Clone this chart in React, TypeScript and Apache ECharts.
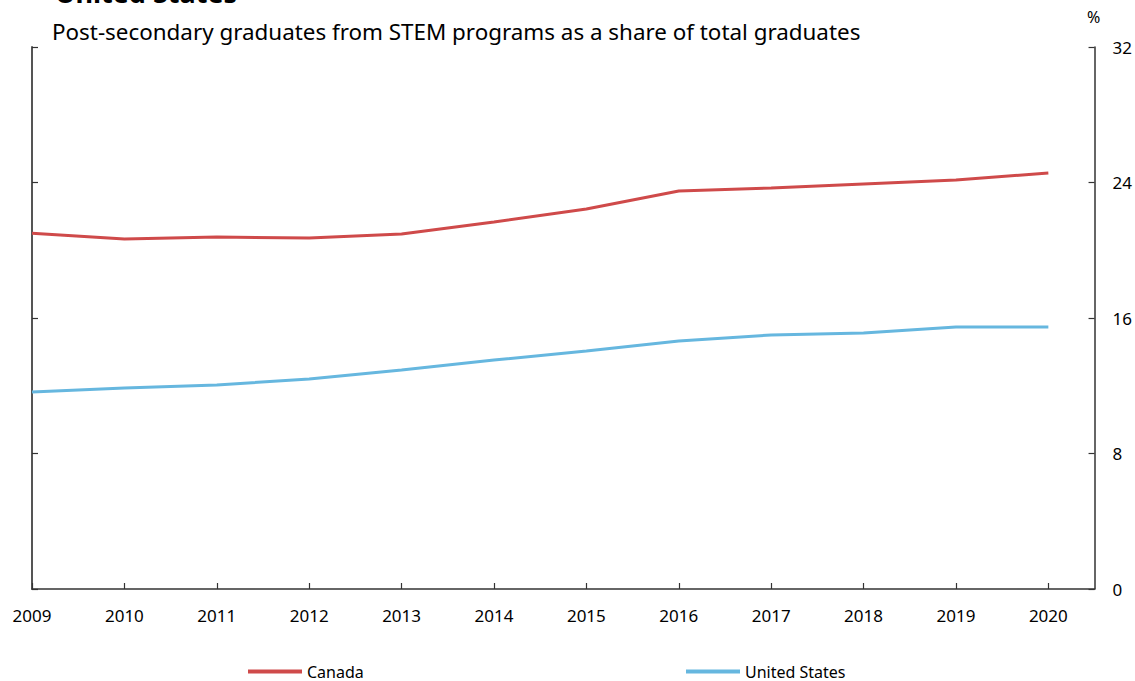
import React, { useEffect, useRef } from "react";
import * as echarts from "echarts";

const years = [2009, 2010, 2011, 2012, 2013, 2014, 2015, 2016, 2017, 2018, 2019, 2020];
const canada = [21.0, 20.66, 20.78, 20.72, 20.96, 21.67, 22.44, 23.5, 23.68, 23.91, 24.15, 24.56];
const unitedStates = [11.63, 11.87, 12.04, 12.4, 12.93, 13.52, 14.05, 14.64, 15.0, 15.11, 15.47, 15.47];
const yTicks = { min: 0, max: 32, interval: 8 };
const titleText = "United States";
const subtitleText = "Post-secondary graduates from STEM programs as a share of total graduates";
const unitText = "%";

const FONT = "'Noto Sans', 'Open Sans', sans-serif";
const RED = "#cf4a4a";
const BLUE = "#66b7df";
const AXIS = "#333333";

export default function App() {
  const ref = useRef<HTMLDivElement>(null);
  useEffect(() => {
    if (!ref.current) return;
    const chart = echarts.init(ref.current, undefined, { renderer: "svg" });
    const pairs = (vals: number[]) => years.map((y, i) => [y, vals[i]]);
    const legendText = { fontFamily: FONT, fontSize: 16, lineHeight: 17, color: "#000", padding: [0, 0, 0, 0] };
    chart.setOption({
      animation: false,
      backgroundColor: "#ffffff",
      textStyle: { fontFamily: FONT },
      grid: { left: 32, right: 40, top: 47, bottom: 92, containLabel: false },
      graphic: [
        {
          type: "text",
          left: 55,
          top: -21,
          style: { text: titleText, font: `bold 27px ${FONT}`, fill: "#000" },
        },
        {
          type: "text",
          left: 52,
          top: 20,
          style: { text: subtitleText, font: `22.4px ${FONT}`, fill: "#000" },
        },
        {
          type: "text",
          left: 1087,
          top: 9,
          style: { text: unitText, font: `16px ${FONT}`, fill: "#000" },
        },
      ],
      legend: [
        {
          data: ["Canada"],
          left: 248,
          top: 663,
          padding: 0,
          itemWidth: 54,
          itemHeight: 4,
          itemGap: 4,
          icon: "rect",
          textStyle: legendText,
        },
        {
          data: ["United States"],
          left: 686,
          top: 663,
          padding: 0,
          itemWidth: 54,
          itemHeight: 4,
          icon: "rect",
          textStyle: legendText,
        },
      ],
      xAxis: {
        type: "value",
        min: 2009,
        max: 2020.5,
        interval: 1,
        splitLine: { show: false },
        axisLine: { show: true, lineStyle: { color: AXIS, width: 1.5 } },
        axisTick: { show: true, inside: true, length: 6, lineStyle: { color: AXIS, width: 1.2 } },
        axisLabel: {
          color: "#000",
          fontSize: 17,
          fontFamily: FONT,
          margin: 18,
          showMaxLabel: false,
          formatter: (v: number) => (Number.isInteger(v) ? String(v) : ""),
        },
      },
      yAxis: [
        {
          type: "value",
          position: "right",
          min: yTicks.min,
          max: yTicks.max,
          interval: yTicks.interval,
          splitLine: { show: false },
          axisLine: { show: true, lineStyle: { color: AXIS, width: 1.5 } },
          axisTick: { show: true, inside: true, length: 6, lineStyle: { color: AXIS, width: 1.2 } },
          axisLabel: { color: "#000", fontSize: 17, fontFamily: FONT, margin: 18 },
        },
        {
          type: "value",
          position: "left",
          min: yTicks.min,
          max: yTicks.max,
          interval: yTicks.interval,
          splitLine: { show: false },
          axisLine: { show: true, lineStyle: { color: "#555", width: 2 } },
          axisTick: { show: true, inside: true, length: 6, lineStyle: { color: AXIS, width: 1.2 } },
          axisLabel: { show: false },
        },
      ],
      series: [
        {
          name: "Canada",
          type: "line",
          data: pairs(canada),
          yAxisIndex: 0,
          showSymbol: false,
          symbol: "none",
          lineStyle: { color: RED, width: 3 },
          itemStyle: { color: RED },
        },
        {
          name: "United States",
          type: "line",
          data: pairs(unitedStates),
          yAxisIndex: 0,
          showSymbol: false,
          symbol: "none",
          lineStyle: { color: BLUE, width: 3 },
          itemStyle: { color: BLUE },
        },
      ],
    });
    return () => chart.dispose();
  }, []);
  return (
    <div
      ref={ref}
      style={{ position: "absolute", left: 0, top: 0, width: 1135, height: 681, background: "#fff" }}
    />
  );
}
